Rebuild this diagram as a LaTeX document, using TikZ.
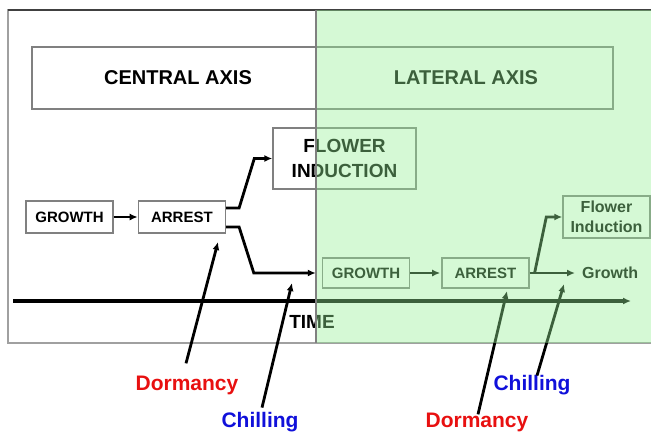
\documentclass[tikz,border=0pt]{standalone}
\usepackage{fontspec}
\setmainfont{Liberation Sans}
\usetikzlibrary{arrows.meta,positioning}
\definecolor{lateralgreen}{RGB}{150,240,150}
\definecolor{dormred}{RGB}{232,16,16}
\definecolor{chillblue}{RGB}{16,16,218}
\definecolor{boxgray}{RGB}{128,128,128}

\begin{document}
\begin{tikzpicture}[
  x=1pt,y=-1pt,
  >=Latex,
  line/.style={-{Latex[length=8pt,width=7pt]},line width=2.8pt,draw=black},
  timeline/.style={line,line width=3.4pt},
  frame/.style={draw=boxgray!75,line width=1.5pt},
  frametop/.style={draw=black!75,line width=1.5pt},
  axisbox/.style={rectangle,draw=boxgray,line width=1.4pt,minimum width=581pt,minimum height=62pt},
  axislabel/.style={font=\fontsize{20}{24}\selectfont\bfseries},
  box/.style={rectangle,draw=boxgray,line width=1.4pt,minimum width=87pt,minimum height=32pt,inner sep=2pt,font=\fontsize{15}{17}\selectfont\bfseries},
  lbox/.style={box,minimum height=30pt},
  bigbox/.style={box,minimum width=143pt,minimum height=61pt,align=center,font=\fontsize{19}{25}\selectfont\bfseries},
  smallbox/.style={box,minimum height=42pt,align=center,font=\fontsize{16}{20}\selectfont\bfseries},
  cue/.style={font=\fontsize{21}{24}\selectfont\bfseries,inner sep=1pt,anchor=base},
  lateralzone/.style={fill=lateralgreen,fill opacity=0.4}
]
\useasboundingbox (0,0) rectangle (651,432);

% Frame
\draw[frame] (651,10) -- (8,10) -- (8,343) -- (651,343);
\draw[frametop] (8,10) -- (651,10);

% Axis header
\node[axisbox] (axes) at (322.5,78) {};
\node[axislabel] (central) at (178,78) {CENTRAL AXIS};
\node[axislabel] (lateral) at (466,78) {LATERAL AXIS};

% Central axis
\node[box] (cgrowth) at (69.5,217) {GROWTH};
\node[box,right=24pt of cgrowth] (carrest) {ARREST};
\node[bigbox] (cflower) at (344.5,158.5) {FLOWER\\INDUCTION};
\draw[line] (cgrowth) -- (carrest);
\draw[line] ([yshift=9pt]carrest.east) -- ++(13,0) -- ([xshift=-18pt]cflower.west) -- (cflower.west);

% Lateral axis
\node[lbox] (lgrowth) at (366,273) {GROWTH};
\node[lbox,right=31pt of lgrowth] (larrest) {ARREST};
\node[smallbox] (lflower) at (606.5,217) {Flower\\Induction};
\node[font=\fontsize{16}{20}\selectfont\bfseries,anchor=base west,inner sep=4pt] (lgrowthtxt) at (578,278.7) {Growth};
\draw[line] ([yshift=-10pt]carrest.east) -- ++(13,0) -- ([xshift=-68pt]lgrowth.west) -- ([xshift=-6pt]lgrowth.west);
\draw[line,shorten >=1pt] (lgrowth) -- (larrest);
\draw[line,shorten >=3pt] (larrest.east) -- (lgrowthtxt.west |- larrest.east);
\draw[line] ([xshift=5pt]larrest.east) -- ([xshift=-16pt]lflower.west) -- (lflower.west);

% Time
\coordinate (tstart) at (13,301);
\coordinate (tend) at (631,301);
\draw[timeline] (tstart) -- (tend);
\node[font=\fontsize{19}{22}\selectfont\bfseries,anchor=base] (time) at (312,328.8) {TIME};

% Dormancy and chilling cues
\node[cue,text=dormred] (dorm1) at (187,390.5) {Dormancy};
\node[cue,text=chillblue] (chill1) at (260,427.5) {Chilling};
\node[cue,text=dormred] (dorm2) at (477,427.5) {Dormancy};
\node[cue,text=chillblue] (chill2) at (532,390.5) {Chilling};
\coordinate (dormtip1) at (218,242);
\coordinate (chilltip1) at (292,283);
\coordinate (dormtip2) at (507,291);
\coordinate (chilltip2) at (564,284);
\draw[line] ([xshift=-1pt,yshift=11.5pt]dorm1.north) -- (dormtip1);
\draw[line] ([xshift=2pt,yshift=3.5pt]chill1.north) -- (chilltip1);
\draw[line] ([xshift=1pt,yshift=-2.5pt]dorm2.north) -- (dormtip2);
\draw[line] ([xshift=5pt,yshift=-1.5pt]chill2.north) -- (chilltip2);

% Lateral zone shading
\fill[lateralzone] (316,10) rectangle (651,343);
\draw[draw=boxgray,line width=1.3pt] (316,10) -- (316,343);

\end{tikzpicture}
\end{document}
